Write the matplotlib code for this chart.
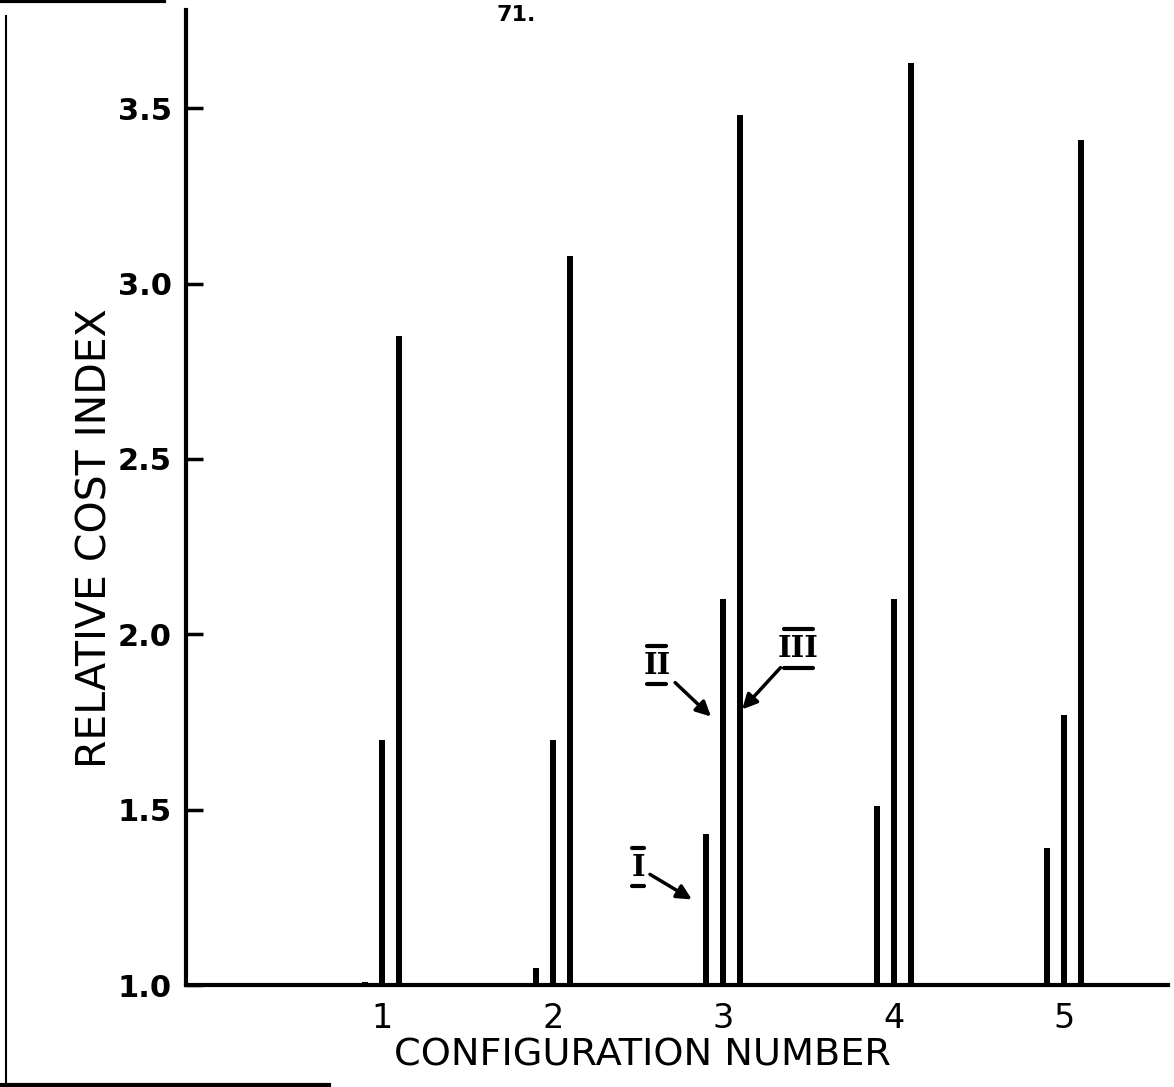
import matplotlib
matplotlib.use("Agg")
import matplotlib.pyplot as plt
from matplotlib.lines import Line2D

configs = [1, 2, 3, 4, 5]
option_I = [1.01, 1.05, 1.43, 1.51, 1.39]
option_II = [1.70, 1.70, 2.10, 2.10, 1.77]
option_III = [2.85, 3.08, 3.48, 3.63, 3.41]
yticks = [1.0, 1.5, 2.0, 2.5, 3.0, 3.5]
ytick_labels = ["1.0", "1.5", "2.0", "2.5", "3.0", "3.5"]

plt.rcParams['font.family'] = ['DejaVu Sans']
fig = plt.figure(figsize=(11.74, 10.87), dpi=100)
ax = fig.add_axes([0.1584, 0.0938, 0.8366, 0.897])

off = 0.1
w = 0.036
base = 1.0
ax.bar([c - off for c in configs], [v - base for v in option_I], bottom=base, width=w, color='black')
ax.bar(configs, [v - base for v in option_II], bottom=base, width=w, color='black')
ax.bar([c + off for c in configs], [v - base for v in option_III], bottom=base, width=w, color='black')

ax.set_xlim(-0.152, 5.61)
ax.set_ylim(1.0, 3.78)
ax.set_yticks(yticks)
ax.set_yticklabels(ytick_labels, fontsize=22, fontweight='bold')
ax.set_xticks(configs)
ax.set_xticklabels([str(c) for c in configs], fontsize=24)
ax.tick_params(axis='y', direction='in', length=12, width=2.5, pad=10)
ax.tick_params(axis='x', length=0, pad=12)
for s in ['top', 'right']:
    ax.spines[s].set_visible(False)
for s in ['left', 'bottom']:
    ax.spines[s].set_linewidth(3)

fig.text(96 / 1174, 1 - 538 / 1087, "RELATIVE COST INDEX", fontsize=29.5,
         rotation=90, ha='center', va='center')
fig.text(642 / 1174, 1 - 1055 / 1087, "CONFIGURATION NUMBER", fontsize=27.5,
         ha='center', va='center')

# Roman numeral labels (with over/under bars) and arrows
akw = dict(arrowstyle='-|>', color='black', lw=2.5, mutation_scale=22)
labels = [
    ("I", (2.50, 1.336), (2.83, 1.24), 0.035),
    ("II", (2.61, 1.912), (2.94, 1.76), 0.055),
    ("III", (3.44, 1.96), (3.10, 1.78), 0.085),
]
for txt, xyt, xy, hw in labels:
    ax.annotate(txt, xy=xy, xytext=xyt, fontsize=21, fontfamily='DejaVu Serif',
                fontweight='bold', ha='center', va='center', arrowprops=akw)
    for dy in (0.055, -0.055):
        ax.plot([xyt[0] - hw, xyt[0] + hw], [xyt[1] + dy, xyt[1] + dy],
                color='black', lw=3, solid_capstyle='round')

# page artifacts
fig.text(0.44, 0.995, "71.", fontsize=16, ha='center', va='top', fontweight='bold')
fig.add_artist(Line2D([0.005, 0.005], [0.0, 0.985], transform=fig.transFigure, color='black', lw=1.5))
fig.add_artist(Line2D([0.0, 0.14], [0.999, 0.999], transform=fig.transFigure, color='black', lw=3))
fig.add_artist(Line2D([0.0, 0.28], [0.002, 0.002], transform=fig.transFigure, color='black', lw=3))

fig.savefig("out.png", dpi=100)
